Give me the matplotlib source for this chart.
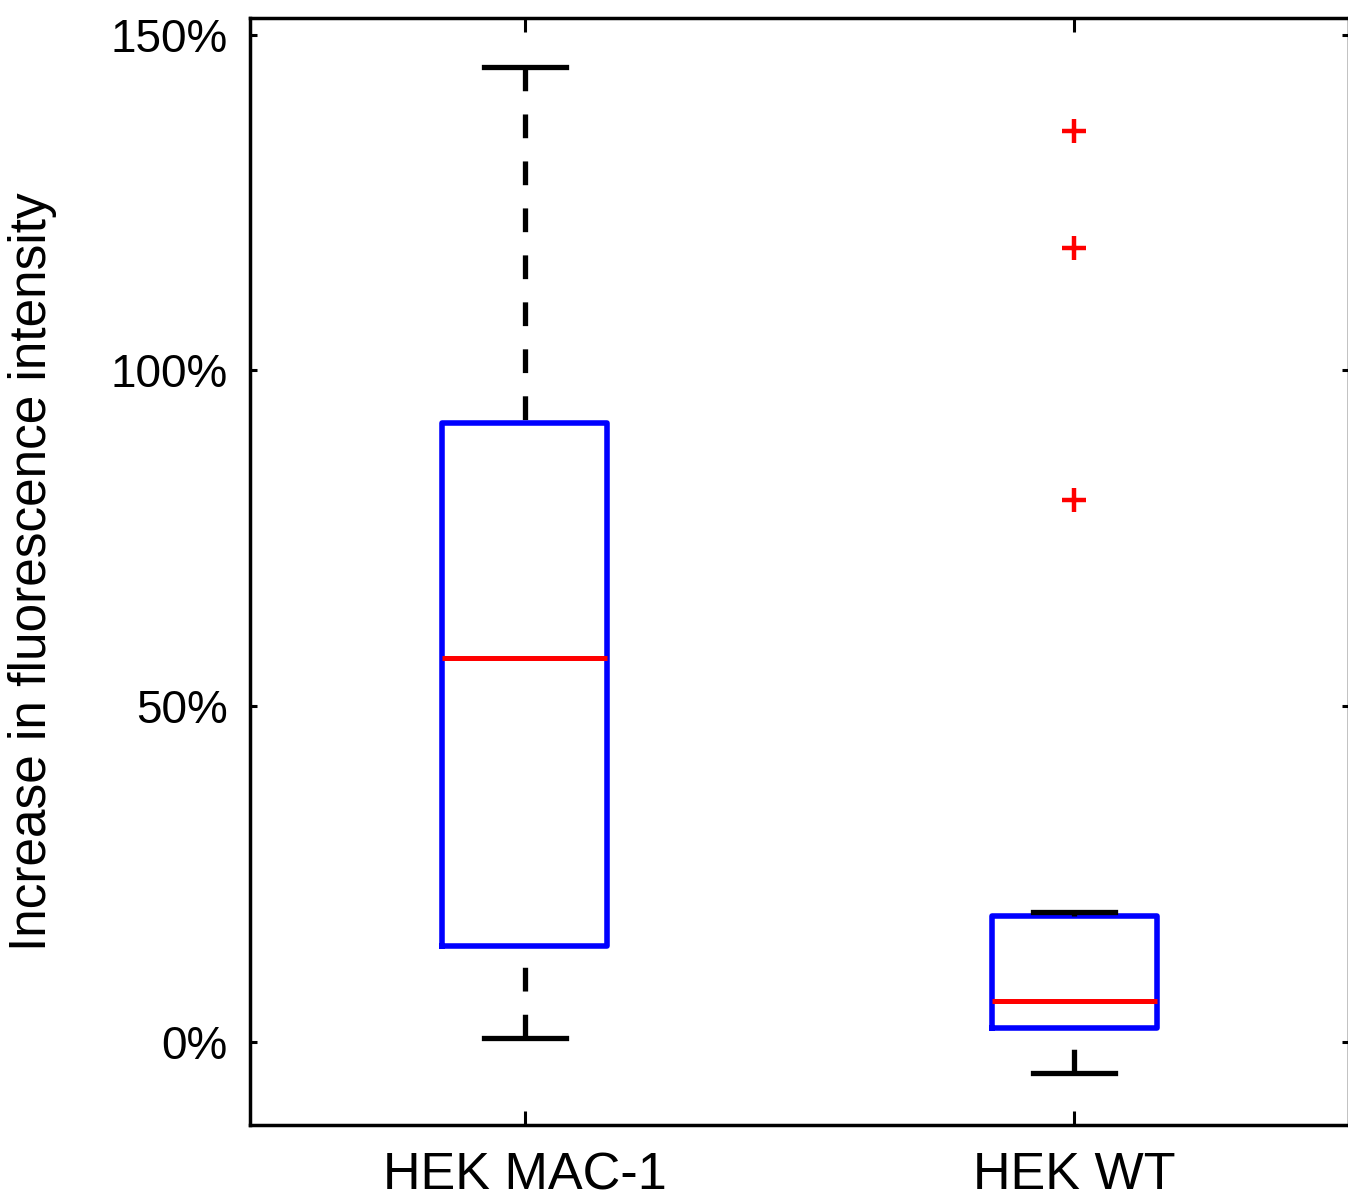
import matplotlib
matplotlib.use("Agg")
import matplotlib.pyplot as plt
from matplotlib.ticker import FuncFormatter

# Data (percent)
groups = ["HEK MAC-1", "HEK WT"]
whisker_low = [0.5, -4.6]
q1 = [14.3, 2.1]
median = [57.1, 6.0]
q3 = [92.2, 18.8]
whisker_high = [145.2, 19.4]
outliers = [[], [135.6, 118.3, 80.7]]

yticks = [0, 50, 100, 150]

plt.rcParams['font.family'] = ['Liberation Sans', 'DejaVu Sans']

fig = plt.figure(figsize=(13.48, 12.01), dpi=100)
ax = fig.add_axes([250 / 1348, 76 / 1201, 1099 / 1348, 1107 / 1201])

stats = []
for i, name in enumerate(groups):
    stats.append({
        'label': name,
        'whislo': whisker_low[i],
        'q1': q1[i],
        'med': median[i],
        'q3': q3[i],
        'whishi': whisker_high[i],
        'fliers': outliers[i],
    })

parts = ax.bxp(
    stats, positions=[1, 2], widths=0.3, capwidths=0.15,
    boxprops=dict(color='#0000ff', linewidth=4.0),
    medianprops=dict(color='#ff0000', linewidth=3.6),
    whiskerprops=dict(color='black', linewidth=3.8, linestyle=(0, (4.5, 4.4))),
    capprops=dict(color='black', linewidth=3.8),
    flierprops=dict(marker='+', markersize=17, markeredgewidth=3.2,
                    markeredgecolor='#ff0000', linestyle='none'),
)

# draw whiskers from the cap toward the box so dashes start at the cap
for w in parts['whiskers']:
    w.set_ydata(w.get_ydata()[::-1])
    w.set_dash_capstyle('butt')

ax.set_xlim(0.5, 2.5)
ax.set_ylim(-12.4, 152.5)
ax.set_yticks(yticks)
ax.yaxis.set_major_formatter(FuncFormatter(lambda v, p: f"{v:.0f}%"))
ax.set_xticks([1, 2])
ax.set_xticklabels(groups)

ax.tick_params(axis='both', direction='in', top=True, right=True, width=2.2)
ax.tick_params(axis='y', length=5, labelsize=33, pad=16)
ax.tick_params(axis='x', length=10, labelsize=37.5, pad=19)

for s in ax.spines.values():
    s.set_linewidth(2.5)

ax.set_ylabel("Increase in fluorescence intensity", fontsize=37)
ax.yaxis.set_label_coords(-0.176, 0.5)

fig.savefig("out.png", dpi=100)
